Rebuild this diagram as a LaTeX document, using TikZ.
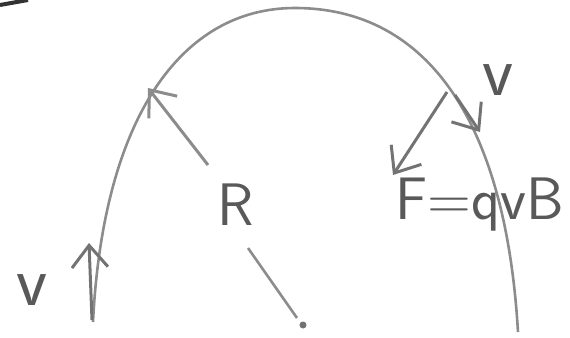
\documentclass[tikz,border=0pt]{standalone}
\usepackage{fontspec}
\usetikzlibrary{arrows.meta}
\tikzset{
  orbit/.style={draw=black!45, line width=1.3pt},
  vecline/.style={draw=black!55, line width=1.5pt, -{Straight Barb[length=11pt,width=18pt,line width=1.5pt]}},
  radline/.style={draw=black!45, line width=1.3pt},
  handlabel/.style={text=black!65, font=\sffamily\fontsize{30}{30}\selectfont, inner sep=0pt}
}
\begin{document}
\begin{tikzpicture}[x=0.5pt,y=-0.5pt]
  \useasboundingbox (0,0) rectangle (570,338);
  % Orbit of the charge
  \coordinate (start) at (93,322);
  \coordinate (apex) at (295,8);
  \coordinate (finish) at (518,332);
  \draw[orbit] (start) .. controls (103,120) and (180,8) .. (apex)
    .. controls (420,8) and (505,110) .. (finish);
  % Mark in the corner
  \coordinate (m0) at (0,5);
  \coordinate (m1) at (28,0);
  \draw[black!80, line width=2pt] (m0) -- (m1);
  % Velocity on the left
  \coordinate (vl0) at (92,320);
  \coordinate (vl1) at (89,243);
  \draw[vecline] (vl0) -- (vl1);
  \node[handlabel, font=\sffamily\fontsize{36}{36}\selectfont] (vleft) at (32,290) {v};
  % Radius
  \coordinate (ctr) at (303,325);
  \fill[black!55] (ctr) circle (3.5);
  \coordinate (r0) at (297,318);
  \coordinate (r1) at (248,248);
  \coordinate (r2) at (208,165);
  \coordinate (r3) at (148,88);
  \draw[radline] (r0) -- (r1);
  \draw[vecline, draw=black!45] (r2) -- (r3);
  \node[handlabel] (rlabel) at (236,205) {R};
  % Velocity and force on the right
  \coordinate (vr0) at (455,95);
  \coordinate (vr1) at (480,132);
  \draw[vecline] (vr0) -- (vr1);
  \node[handlabel, font=\sffamily\fontsize{36}{36}\selectfont] (vright) at (498,80) {v};
  \coordinate (f0) at (447,92);
  \coordinate (f1) at (393,175);
  \draw[vecline] (f0) -- (f1);
  \node[handlabel] (force) at (480,205) {F=qvB};
\end{tikzpicture}
\end{document}
